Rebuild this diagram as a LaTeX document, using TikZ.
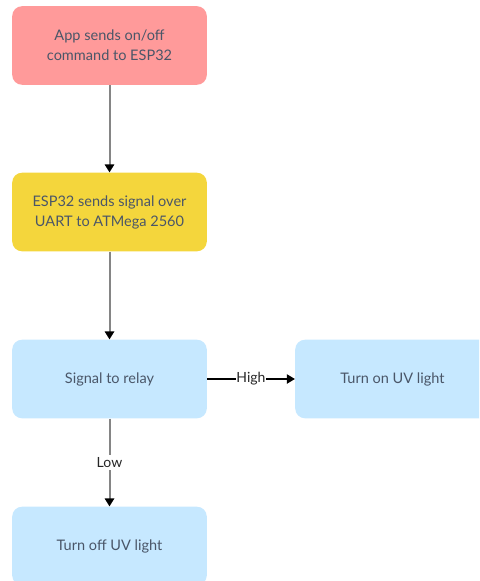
\documentclass[tikz,border=0pt]{standalone}
\usepackage{fontspec}
\setmainfont{Lato}
\usepackage{xcolor}
\usetikzlibrary{arrows.meta}
\definecolor{flowpink}{HTML}{FF9A9A}
\definecolor{flowyellow}{HTML}{F4D63C}
\definecolor{flowblue}{HTML}{C6E8FF}
\definecolor{flowtext}{HTML}{4A5668}
\definecolor{flowline}{HTML}{858585}

\begin{document}
\begin{tikzpicture}[x=0.75pt,y=-0.75pt,
  flowbox/.style={rounded corners=7.5pt,minimum width=146pt,minimum height=59pt,
    align=center,text=flowtext,font=\fontsize{10.9}{15}\selectfont},
  flowarrow/.style={draw=flowline,line width=1.5pt,-{Triangle[width=7pt,length=6pt,black]}},
  flowlabel/.style={fill=white,font=\fontsize{10.5}{12}\selectfont,text=black!85}]
  \useasboundingbox (0,0) rectangle (479,581);
  \clip (0,0) rectangle (479,581);
  \node[flowbox,fill=flowpink] (app) at (109.5,45.5) {App sends on/off\\command to ESP32};
  \node[flowbox,fill=flowyellow] (esp) at (109.5,212) {ESP32 sends signal over\\UART to ATMega 2560};
  \node[flowbox,fill=flowblue] (relay) at (109.5,379) {Signal to relay};
  \node[flowbox,fill=flowblue] (uvon) at (392.5,379) {Turn on UV light};
  \node[flowbox,fill=flowblue] (uvoff) at (109.5,546) {Turn off UV light};
  \draw[flowarrow] (app) -- (esp);
  \draw[flowarrow] (esp) -- (relay);
  \draw[line width=0.8pt,-{Triangle[width=7pt,length=6pt]}] (relay) -- node[flowlabel,inner sep=0pt] {High} (uvon);
  \draw[flowarrow] (relay) -- node[flowlabel,inner sep=2pt] {Low} (uvoff);
\end{tikzpicture}
\end{document}
